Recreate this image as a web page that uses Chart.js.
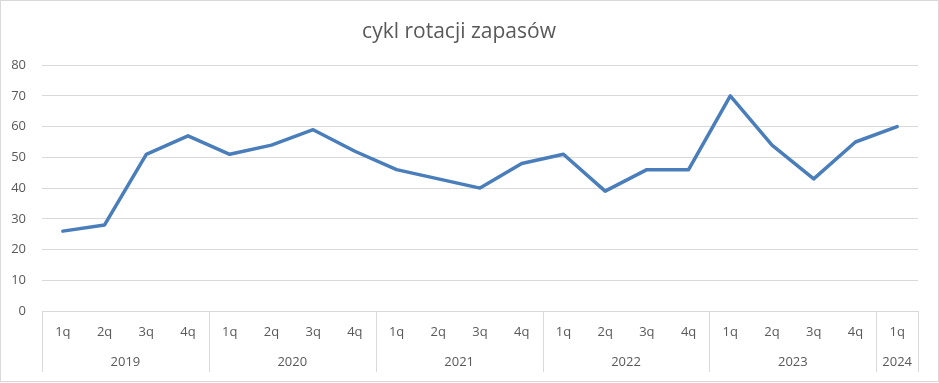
<!DOCTYPE html>
<html>
<head>
<meta charset="utf-8">
<script src="https://cdn.jsdelivr.net/npm/chart.js@4/dist/chart.umd.min.js"></script>
<style>
html,body{margin:0;padding:0;background:#fff;}
#wrap{position:absolute;left:0;top:0;width:939px;height:383px;}
</style>
</head>
<body>
<div id="wrap"><canvas id="c" width="939" height="383"></canvas></div>
<script>
const chartTitle = 'cykl rotacji zapasów';
const quarters = ['1q','2q','3q','4q','1q','2q','3q','4q','1q','2q','3q','4q','1q','2q','3q','4q','1q','2q','3q','4q','1q'];
const years = ['2019','2020','2021','2022','2023','2024'];
const quartersPerYear = [4,4,4,4,4,1];
const values = [26,28,51,57, 51,54,59,52, 46,43,40,48, 51,39,46,46, 70,54,43,55, 60];
const yTicks = [0,10,20,30,40,50,60,70,80];

const FONT = "'Open Sans', 'Liberation Sans', sans-serif";
const TXT = '#595959';
const GRID = '#d9d9d9';

const yearAxisPlugin = {
  id: 'yearAxis',
  beforeDraw(chart) {
    const ctx = chart.ctx;
    ctx.save();
    ctx.fillStyle = '#fff';
    ctx.fillRect(0, 0, chart.width, chart.height);
    ctx.strokeStyle = GRID;
    ctx.lineWidth = 1;
    ctx.strokeRect(0.5, 0.5, chart.width - 1, chart.height - 2);
    ctx.restore();
  },
  afterDraw(chart) {
    const ctx = chart.ctx;
    const xs = chart.scales.x;
    const area = chart.chartArea;
    const top = area.bottom;
    const bottom = area.bottom + 61;
    ctx.save();
    ctx.strokeStyle = GRID;
    ctx.lineWidth = 1;
    ctx.fillStyle = TXT;
    ctx.font = '13px ' + FONT;
    ctx.textAlign = 'center';
    ctx.textBaseline = 'middle';
    let idx = 0;
    const boundary = (i) => {
      if (i <= 0) return area.left;
      if (i >= quarters.length) return area.right;
      return (xs.getPixelForValue(i - 1) + xs.getPixelForValue(i)) / 2;
    };
    for (let g = 0; g < years.length; g++) {
      const x0 = boundary(idx);
      const x1 = boundary(idx + quartersPerYear[g]);
      ctx.beginPath();
      ctx.moveTo(Math.round(x0) + 0.5, top);
      ctx.lineTo(Math.round(x0) + 0.5, bottom);
      ctx.stroke();
      if (g === years.length - 1) {
        ctx.beginPath();
        ctx.moveTo(Math.round(x1) + 0.5, top);
        ctx.lineTo(Math.round(x1) + 0.5, bottom);
        ctx.stroke();
      }
      ctx.fillText(years[g], (x0 + x1) / 2, area.bottom + 51);
      idx += quartersPerYear[g];
    }
    ctx.restore();
  }
};

new Chart(document.getElementById('c'), {
  type: 'line',
  data: {
    labels: quarters,
    datasets: [{
      label: chartTitle,
      data: values,
      borderColor: '#4a7ebb',
      backgroundColor: '#4a7ebb',
      borderWidth: 3.5,
      pointRadius: 0,
      pointHoverRadius: 0,
      tension: 0,
      borderCapStyle: 'round',
      borderJoinStyle: 'round'
    }]
  },
  options: {
    responsive: false,
    animation: false,
    events: [],
    layout: { padding: { left: 0, right: 21, top: 0, bottom: 0 } },
    plugins: {
      legend: { display: false },
      tooltip: { enabled: false },
      title: {
        display: true,
        text: chartTitle,
        color: TXT,
        font: { family: FONT, size: 21, weight: 'normal' },
        padding: { top: 19, bottom: 21 }
      }
    },
    scales: {
      x: {
        type: 'category',
        offset: true,
        grid: { display: false, drawTicks: false },
        border: { display: false },
        ticks: {
          color: TXT,
          font: { family: FONT, size: 13 },
          padding: 13,
          maxRotation: 0,
          autoSkip: false
        },
        afterFit(scale) { scale.height = 72; }
      },
      y: {
        min: 0,
        max: 80,
        afterBuildTicks(scale) { scale.ticks = yTicks.map(v => ({ value: v })); },
        grid: { color: GRID, lineWidth: 1, drawTicks: false },
        border: { display: false },
        ticks: {
          color: TXT,
          font: { family: FONT, size: 13 },
          padding: 16
        },
        afterFit(scale) { scale.width = 42; }
      }
    }
  },
  plugins: [yearAxisPlugin]
});
</script>
</body>
</html>
